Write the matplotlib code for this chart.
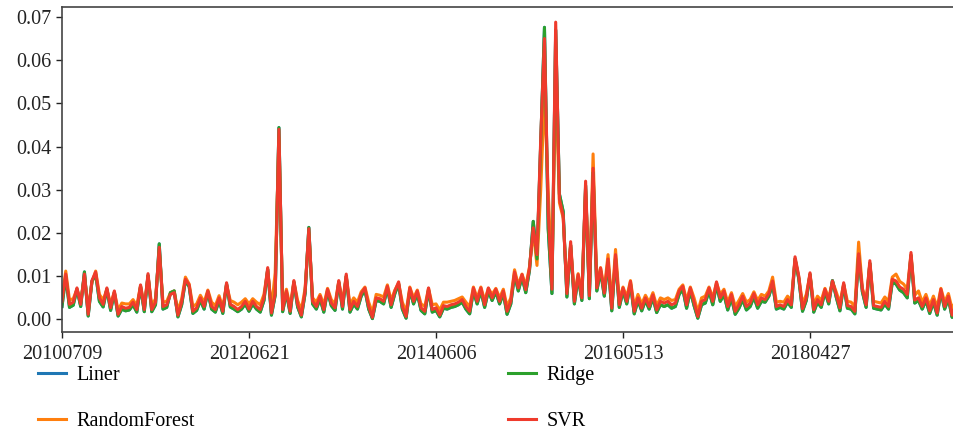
import matplotlib

matplotlib.use("Agg")
import matplotlib.pyplot as plt
import numpy as np

# weekly predicted volatility, one value per trading week
TICK_DATES = ["20100709", "20120621", "20140606", "20160513", "20180427"]
TICK_STEP = 50

LINER = [
    0.0030, 0.0100, 0.0028, 0.0033, 0.0070, 0.0030, 0.0110, 0.0008, 0.0088, 0.0105,
    0.0042, 0.0029, 0.0070, 0.0021, 0.0062, 0.0008, 0.0024, 0.0020, 0.0022, 0.0034,
    0.0017, 0.0076, 0.0018, 0.0102, 0.0018, 0.0034, 0.0175, 0.0024, 0.0028, 0.0062,
    0.0066, 0.0006, 0.0034, 0.0090, 0.0076, 0.0014, 0.0021, 0.0044, 0.0024, 0.0064,
    0.0024, 0.0017, 0.0044, 0.0014, 0.0082, 0.0029, 0.0024, 0.0018, 0.0024, 0.0036,
    0.0019, 0.0036, 0.0024, 0.0017, 0.0044, 0.0116, 0.0010, 0.0056, 0.0444, 0.0018,
    0.0062, 0.0014, 0.0086, 0.0029, 0.0006, 0.0060, 0.0213, 0.0036, 0.0024, 0.0048,
    0.0017, 0.0066, 0.0032, 0.0021, 0.0086, 0.0024, 0.0100, 0.0017, 0.0036, 0.0024,
    0.0054, 0.0068, 0.0024, 0.0002, 0.0044, 0.0042, 0.0036, 0.0072, 0.0028, 0.0060,
    0.0082, 0.0024, 0.0003, 0.0068, 0.0036, 0.0060, 0.0021, 0.0013, 0.0068, 0.0017,
    0.0021, 0.0006, 0.0026, 0.0024, 0.0028, 0.0030, 0.0034, 0.0040, 0.0024, 0.0013,
    0.0066, 0.0036, 0.0066, 0.0028, 0.0066, 0.0044, 0.0064, 0.0036, 0.0060, 0.0012,
    0.0036, 0.0104, 0.0066, 0.0098, 0.0062, 0.0114, 0.0227, 0.0140, 0.0410, 0.0676,
    0.0210, 0.0060, 0.0670, 0.0290, 0.0250, 0.0052, 0.0172, 0.0036, 0.0098, 0.0044,
    0.0310, 0.0048, 0.0340, 0.0066, 0.0112, 0.0054, 0.0132, 0.0020, 0.0142, 0.0028,
    0.0066, 0.0036, 0.0082, 0.0013, 0.0044, 0.0020, 0.0044, 0.0024, 0.0050, 0.0016,
    0.0034, 0.0030, 0.0034, 0.0026, 0.0030, 0.0058, 0.0070, 0.0026, 0.0066, 0.0032,
    0.0003, 0.0034, 0.0038, 0.0066, 0.0034, 0.0080, 0.0042, 0.0058, 0.0022, 0.0050,
    0.0012, 0.0026, 0.0046, 0.0022, 0.0030, 0.0052, 0.0026, 0.0042, 0.0040, 0.0054,
    0.0082, 0.0024, 0.0028, 0.0024, 0.0040, 0.0028, 0.0140, 0.0094, 0.0019, 0.0044,
    0.0104, 0.0017, 0.0040, 0.0028, 0.0064, 0.0036, 0.0090, 0.0052, 0.0020, 0.0080,
    0.0026, 0.0024, 0.0013, 0.0148, 0.0064, 0.0028, 0.0130, 0.0026, 0.0024, 0.0022,
    0.0036, 0.0024, 0.0086, 0.0082, 0.0068, 0.0062, 0.0050, 0.0148, 0.0038, 0.0044,
    0.0024, 0.0044, 0.0014, 0.0040, 0.0010, 0.0064, 0.0024, 0.0048, 0.0005, 0.0028,
]

RANDOM_FOREST = [
    0.0048, 0.0112, 0.0045, 0.0048, 0.0070, 0.0044, 0.0100, 0.0025, 0.0085, 0.0112,
    0.0058, 0.0045, 0.0070, 0.0036, 0.0064, 0.0022, 0.0038, 0.0036, 0.0036, 0.0046,
    0.0032, 0.0078, 0.0032, 0.0100, 0.0032, 0.0048, 0.0160, 0.0040, 0.0042, 0.0062,
    0.0066, 0.0020, 0.0048, 0.0098, 0.0082, 0.0030, 0.0036, 0.0056, 0.0040, 0.0068,
    0.0040, 0.0032, 0.0055, 0.0028, 0.0080, 0.0044, 0.0040, 0.0034, 0.0040, 0.0048,
    0.0036, 0.0048, 0.0040, 0.0034, 0.0058, 0.0115, 0.0026, 0.0108, 0.0420, 0.0034,
    0.0070, 0.0030, 0.0088, 0.0044, 0.0022, 0.0072, 0.0200, 0.0050, 0.0040, 0.0058,
    0.0034, 0.0072, 0.0046, 0.0036, 0.0088, 0.0040, 0.0100, 0.0034, 0.0050, 0.0040,
    0.0064, 0.0075, 0.0040, 0.0016, 0.0058, 0.0056, 0.0052, 0.0080, 0.0044, 0.0068,
    0.0084, 0.0040, 0.0018, 0.0075, 0.0050, 0.0068, 0.0036, 0.0030, 0.0072, 0.0034,
    0.0036, 0.0022, 0.0040, 0.0040, 0.0042, 0.0044, 0.0048, 0.0052, 0.0040, 0.0030,
    0.0075, 0.0050, 0.0075, 0.0044, 0.0072, 0.0058, 0.0072, 0.0050, 0.0070, 0.0030,
    0.0050, 0.0115, 0.0080, 0.0105, 0.0078, 0.0122, 0.0205, 0.0125, 0.0300, 0.0520,
    0.0297, 0.0090, 0.0560, 0.0270, 0.0235, 0.0075, 0.0172, 0.0055, 0.0106, 0.0062,
    0.0300, 0.0066, 0.0383, 0.0082, 0.0120, 0.0070, 0.0150, 0.0038, 0.0162, 0.0044,
    0.0075, 0.0052, 0.0090, 0.0030, 0.0058, 0.0036, 0.0056, 0.0040, 0.0062, 0.0032,
    0.0050, 0.0046, 0.0050, 0.0044, 0.0046, 0.0070, 0.0080, 0.0044, 0.0075, 0.0050,
    0.0018, 0.0050, 0.0054, 0.0075, 0.0050, 0.0085, 0.0058, 0.0070, 0.0040, 0.0062,
    0.0030, 0.0044, 0.0060, 0.0040, 0.0046, 0.0064, 0.0044, 0.0058, 0.0054, 0.0066,
    0.0098, 0.0040, 0.0042, 0.0040, 0.0054, 0.0044, 0.0140, 0.0098, 0.0036, 0.0058,
    0.0105, 0.0034, 0.0054, 0.0044, 0.0072, 0.0050, 0.0088, 0.0064, 0.0038, 0.0082,
    0.0042, 0.0040, 0.0030, 0.0179, 0.0072, 0.0044, 0.0130, 0.0042, 0.0040, 0.0038,
    0.0052, 0.0042, 0.0098, 0.0105, 0.0088, 0.0082, 0.0070, 0.0150, 0.0056, 0.0066,
    0.0040, 0.0058, 0.0032, 0.0054, 0.0028, 0.0072, 0.0040, 0.0060, 0.0024, 0.0044,
]

RIDGE = [
    0.0030, 0.0100, 0.0028, 0.0033, 0.0070, 0.0030, 0.0110, 0.0008, 0.0088, 0.0105,
    0.0042, 0.0029, 0.0070, 0.0021, 0.0062, 0.0008, 0.0024, 0.0020, 0.0022, 0.0034,
    0.0017, 0.0076, 0.0018, 0.0102, 0.0018, 0.0034, 0.0175, 0.0024, 0.0028, 0.0062,
    0.0066, 0.0006, 0.0034, 0.0090, 0.0076, 0.0014, 0.0021, 0.0044, 0.0024, 0.0064,
    0.0024, 0.0017, 0.0044, 0.0014, 0.0082, 0.0029, 0.0024, 0.0018, 0.0024, 0.0036,
    0.0019, 0.0036, 0.0024, 0.0017, 0.0044, 0.0116, 0.0010, 0.0056, 0.0444, 0.0018,
    0.0062, 0.0014, 0.0086, 0.0029, 0.0006, 0.0060, 0.0213, 0.0036, 0.0024, 0.0048,
    0.0017, 0.0066, 0.0032, 0.0021, 0.0086, 0.0024, 0.0100, 0.0017, 0.0036, 0.0024,
    0.0054, 0.0068, 0.0024, 0.0002, 0.0044, 0.0042, 0.0036, 0.0072, 0.0028, 0.0060,
    0.0082, 0.0024, 0.0003, 0.0068, 0.0036, 0.0060, 0.0021, 0.0013, 0.0068, 0.0017,
    0.0021, 0.0006, 0.0026, 0.0024, 0.0028, 0.0030, 0.0034, 0.0040, 0.0024, 0.0013,
    0.0066, 0.0036, 0.0066, 0.0028, 0.0066, 0.0044, 0.0064, 0.0036, 0.0060, 0.0012,
    0.0036, 0.0104, 0.0066, 0.0098, 0.0062, 0.0114, 0.0227, 0.0140, 0.0410, 0.0676,
    0.0210, 0.0060, 0.0670, 0.0290, 0.0250, 0.0052, 0.0172, 0.0036, 0.0098, 0.0044,
    0.0310, 0.0048, 0.0340, 0.0066, 0.0112, 0.0054, 0.0132, 0.0020, 0.0142, 0.0028,
    0.0066, 0.0036, 0.0082, 0.0013, 0.0044, 0.0020, 0.0044, 0.0024, 0.0050, 0.0016,
    0.0034, 0.0030, 0.0034, 0.0026, 0.0030, 0.0058, 0.0070, 0.0026, 0.0066, 0.0032,
    0.0003, 0.0034, 0.0038, 0.0066, 0.0034, 0.0080, 0.0042, 0.0058, 0.0022, 0.0050,
    0.0012, 0.0026, 0.0046, 0.0022, 0.0030, 0.0052, 0.0026, 0.0042, 0.0040, 0.0054,
    0.0082, 0.0024, 0.0028, 0.0024, 0.0040, 0.0028, 0.0140, 0.0094, 0.0019, 0.0044,
    0.0104, 0.0017, 0.0040, 0.0028, 0.0064, 0.0036, 0.0090, 0.0052, 0.0020, 0.0080,
    0.0026, 0.0024, 0.0013, 0.0148, 0.0064, 0.0028, 0.0130, 0.0026, 0.0024, 0.0022,
    0.0036, 0.0024, 0.0086, 0.0082, 0.0068, 0.0062, 0.0050, 0.0148, 0.0038, 0.0044,
    0.0024, 0.0044, 0.0014, 0.0040, 0.0010, 0.0064, 0.0024, 0.0048, 0.0005, 0.0028,
]

SVR = [
    0.0042, 0.0105, 0.0035, 0.0040, 0.0073, 0.0035, 0.0105, 0.0012, 0.0090, 0.0110,
    0.0050, 0.0035, 0.0073, 0.0027, 0.0066, 0.0012, 0.0030, 0.0026, 0.0028, 0.0040,
    0.0023, 0.0080, 0.0023, 0.0106, 0.0023, 0.0040, 0.0167, 0.0030, 0.0034, 0.0058,
    0.0062, 0.0010, 0.0040, 0.0093, 0.0080, 0.0019, 0.0027, 0.0050, 0.0030, 0.0066,
    0.0030, 0.0023, 0.0050, 0.0019, 0.0085, 0.0035, 0.0030, 0.0023, 0.0030, 0.0042,
    0.0024, 0.0042, 0.0030, 0.0023, 0.0050, 0.0120, 0.0015, 0.0060, 0.0440, 0.0023,
    0.0066, 0.0019, 0.0090, 0.0035, 0.0010, 0.0066, 0.0210, 0.0042, 0.0030, 0.0054,
    0.0023, 0.0070, 0.0038, 0.0027, 0.0090, 0.0030, 0.0105, 0.0023, 0.0042, 0.0030,
    0.0060, 0.0073, 0.0030, 0.0005, 0.0050, 0.0048, 0.0042, 0.0077, 0.0034, 0.0066,
    0.0087, 0.0030, 0.0007, 0.0073, 0.0042, 0.0066, 0.0027, 0.0019, 0.0073, 0.0023,
    0.0027, 0.0010, 0.0032, 0.0030, 0.0034, 0.0036, 0.0040, 0.0046, 0.0030, 0.0019,
    0.0073, 0.0042, 0.0073, 0.0034, 0.0073, 0.0050, 0.0070, 0.0042, 0.0066, 0.0019,
    0.0042, 0.0110, 0.0073, 0.0104, 0.0069, 0.0119, 0.0212, 0.0150, 0.0418, 0.0650,
    0.0250, 0.0070, 0.0688, 0.0278, 0.0240, 0.0060, 0.0180, 0.0042, 0.0104, 0.0050,
    0.0320, 0.0055, 0.0350, 0.0073, 0.0119, 0.0061, 0.0140, 0.0026, 0.0150, 0.0034,
    0.0073, 0.0042, 0.0088, 0.0019, 0.0050, 0.0026, 0.0050, 0.0030, 0.0057, 0.0022,
    0.0042, 0.0038, 0.0042, 0.0034, 0.0038, 0.0066, 0.0077, 0.0034, 0.0073, 0.0040,
    0.0007, 0.0042, 0.0046, 0.0073, 0.0042, 0.0087, 0.0050, 0.0066, 0.0030, 0.0058,
    0.0019, 0.0034, 0.0054, 0.0030, 0.0038, 0.0060, 0.0034, 0.0050, 0.0046, 0.0060,
    0.0089, 0.0030, 0.0034, 0.0030, 0.0046, 0.0034, 0.0145, 0.0100, 0.0025, 0.0050,
    0.0108, 0.0023, 0.0046, 0.0034, 0.0070, 0.0042, 0.0089, 0.0058, 0.0027, 0.0085,
    0.0032, 0.0030, 0.0019, 0.0152, 0.0070, 0.0034, 0.0136, 0.0032, 0.0030, 0.0028,
    0.0042, 0.0030, 0.0093, 0.0089, 0.0075, 0.0070, 0.0058, 0.0155, 0.0045, 0.0050,
    0.0030, 0.0050, 0.0020, 0.0046, 0.0015, 0.0070, 0.0030, 0.0054, 0.0010, 0.0034,
]

MODELS = [
    ("Liner", LINER, "#1f77b4"),
    ("RandomForest", RANDOM_FOREST, "#ff7f0e"),
    ("Ridge", RIDGE, "#2ca02c"),
    ("SVR", SVR, "#ef3b2c"),
]

plt.rcParams["font.family"] = "serif"
plt.rcParams["font.serif"] = ["Liberation Serif", "DejaVu Serif"]

fig = plt.figure(figsize=(9.54, 4.34), dpi=100)
ax = fig.add_axes([62 / 954, 102 / 434, 892 / 954, 325 / 434])

handles = []
for name, values, color in MODELS:
    x = np.arange(len(values))
    (line,) = ax.plot(x, values, color=color, lw=2.2, label=name)
    handles.append(line)

n = len(SVR)
ax.set_xlim(0, n - 1.5)
ax.set_ylim(-0.0029, 0.0723)
ax.set_xticks(np.arange(len(TICK_DATES)) * TICK_STEP)
ax.set_xticklabels(TICK_DATES)
ax.set_yticks(np.arange(0, 0.071, 0.01))
ax.set_yticklabels([f"{v:.2f}" for v in np.arange(0, 0.071, 0.01)])
ax.tick_params(labelsize=14.5, length=4, width=1, colors="#222222")
ax.tick_params(axis="x", pad=5.5)
for s in ax.spines.values():
    s.set_color("#444444")
    s.set_linewidth(1.2)

# two separate two-row legends below the plot
leg_kw = dict(frameon=False, fontsize=14.5, handlelength=1.4, handletextpad=0.5,
              labelspacing=1.35, borderpad=0, borderaxespad=0, loc="upper left")
fig.legend(handles[:2], [h.get_label() for h in handles[:2]],
           bbox_to_anchor=(38 / 954, 1 - 366 / 434), **leg_kw)
fig.legend(handles[2:], [h.get_label() for h in handles[2:]],
           bbox_to_anchor=(508 / 954, 1 - 366 / 434), **leg_kw)

fig.savefig("out.png", dpi=100)
